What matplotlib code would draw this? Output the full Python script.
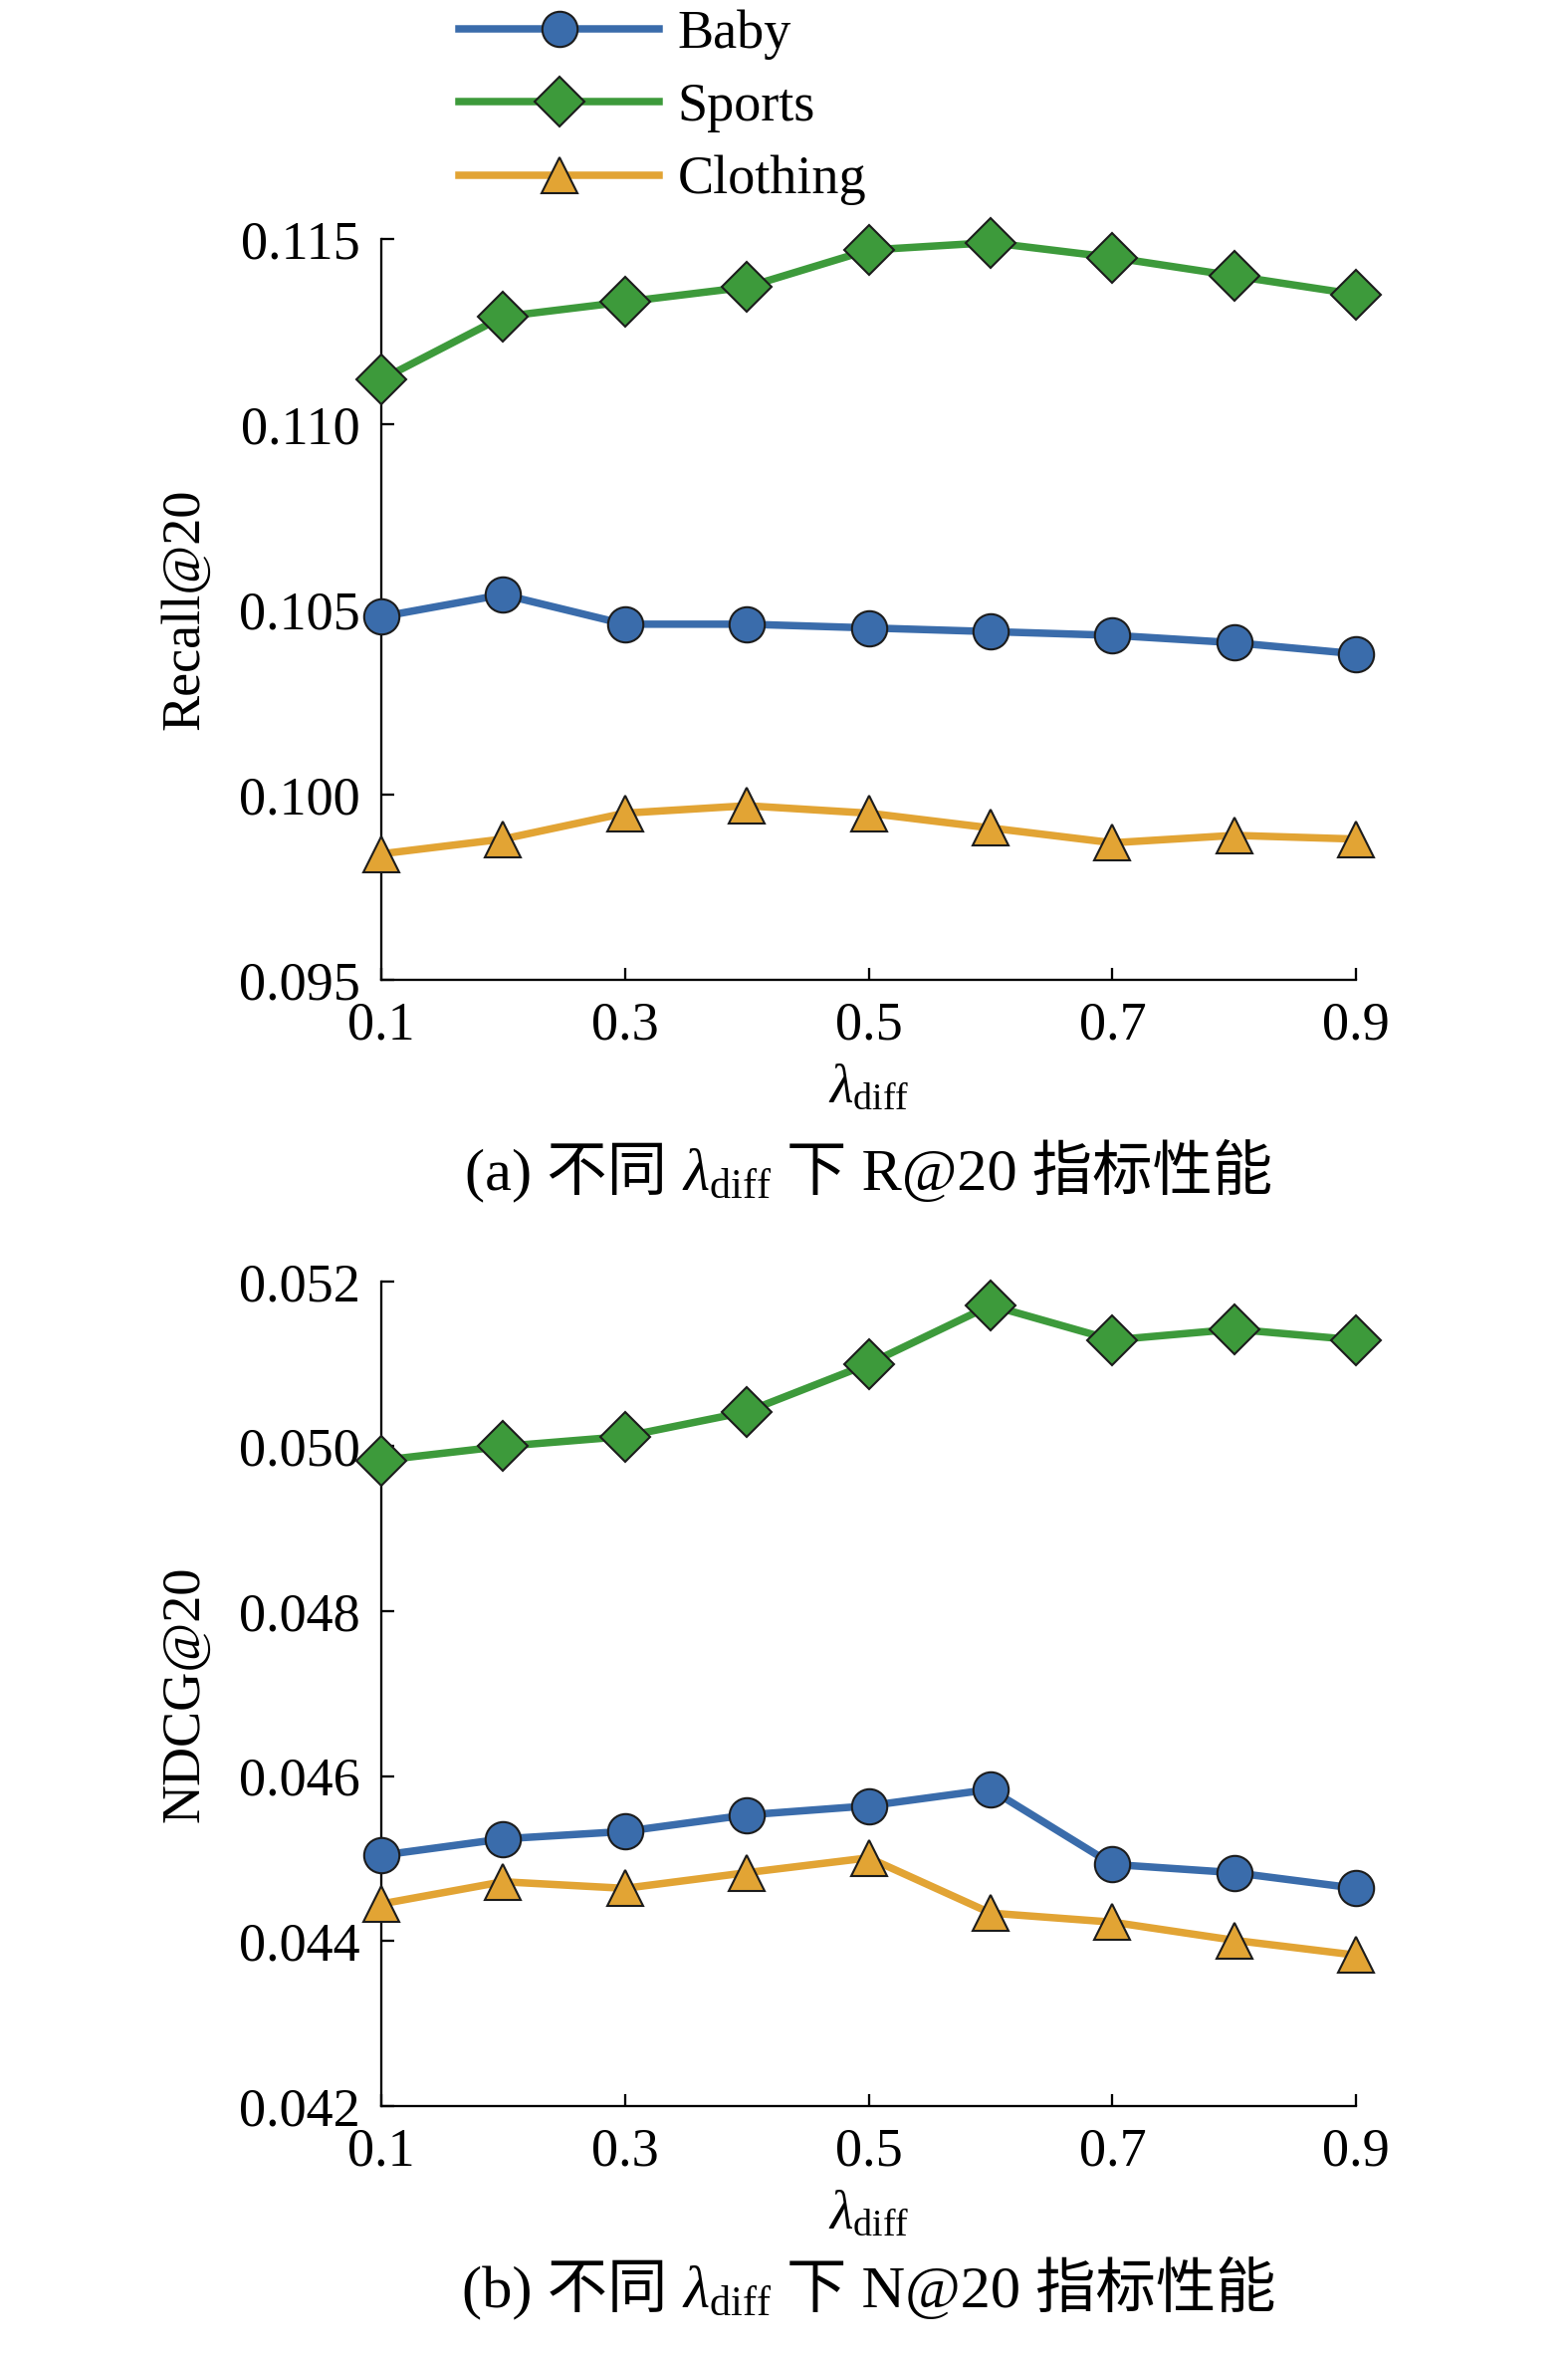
import numpy as np
import matplotlib
matplotlib.use("Agg")
import matplotlib.pyplot as plt
from matplotlib.offsetbox import TextArea, HPacker, AnchoredOffsetbox

plt.rcParams['font.family'] = ['Liberation Serif', 'Noto Sans CJK SC']
plt.rcParams['mathtext.fontset'] = 'custom'
plt.rcParams['mathtext.rm'] = 'Liberation Serif'
plt.rcParams['mathtext.it'] = 'Liberation Serif:italic'

# data
lam = [0.1, 0.2, 0.3, 0.4, 0.5, 0.6, 0.7, 0.8, 0.9]
series = ['Baby', 'Sports', 'Clothing']

recall_baby = [0.1048, 0.1054, 0.1046, 0.1046, 0.1045, 0.1044, 0.1043, 0.1041, 0.1038]
recall_sports = [0.1112, 0.1129, 0.1133, 0.1137, 0.1147, 0.1149, 0.1145, 0.1140, 0.1135]
recall_clothing = [0.0984, 0.0988, 0.0995, 0.0997, 0.0995, 0.0991, 0.0987, 0.0989, 0.0988]

ndcg_baby = [0.04504, 0.04524, 0.04533, 0.04553, 0.04564, 0.04584, 0.04493, 0.04483, 0.04464]
ndcg_sports = [0.04983, 0.05000, 0.05012, 0.05042, 0.05100, 0.05171, 0.05129, 0.05142, 0.05129]
ndcg_clothing = [0.04445, 0.04472, 0.04464, 0.04483, 0.04501, 0.04434, 0.04423, 0.04401, 0.04383]

x_ticks = [0.1, 0.3, 0.5, 0.7, 0.9]
recall_ticks = [0.095, 0.100, 0.105, 0.110, 0.115]
ndcg_ticks = [0.042, 0.044, 0.046, 0.048, 0.050, 0.052]

colors = ['#3a6cab', '#3d9a3b', '#e2a434']
markers = ['o', 'D', '^']
FS = 26

fig = plt.figure(figsize=(10.5, 2366 / 150), dpi=150)
ax1 = fig.add_axes([0.243, 0.5841, 0.622, 0.3145])
ax2 = fig.add_axes([0.243, 0.1061, 0.622, 0.3500])


def style_axes(ax, yticks, ylabel):
    ax.set_xlim(0.1, 0.9)
    ax.set_ylim(yticks[0], yticks[-1])
    ax.set_xticks(x_ticks)
    ax.set_xticklabels([f'{t:.1f}' for t in x_ticks])
    ax.set_yticks(yticks)
    ax.set_yticklabels([f'{t:.3f}' for t in yticks])
    for s in ['top', 'right']:
        ax.spines[s].set_visible(False)
    for s in ['left', 'bottom']:
        ax.spines[s].set_linewidth(1.1)
    ax.tick_params(direction='in', length=6, width=1.1, labelsize=FS, pad=10)
    ax.set_ylabel(ylabel, fontsize=FS)
    ax.yaxis.set_label_coords(-0.175, 0.5)
    ax.set_xlabel(r'$\lambda_{\mathrm{diff}}$', fontsize=FS, labelpad=6)


def draw(ax, ys):
    handles = []
    for y, c, m, name in zip(ys, colors, markers, series):
        h, = ax.plot(lam, y, color=c, lw=3.6, marker=m, markersize=17,
                     markerfacecolor=c, markeredgecolor='#1c1c1c',
                     markeredgewidth=1.0, clip_on=False, label=name, zorder=3)
        handles.append(h)
    return handles


handles = draw(ax1, [recall_baby, recall_sports, recall_clothing])
draw(ax2, [ndcg_baby, ndcg_sports, ndcg_clothing])
style_axes(ax1, recall_ticks, 'Recall@20')
style_axes(ax2, ndcg_ticks, 'NDCG@20')

fig.legend(handles=handles, loc='upper left', bbox_to_anchor=(0.293, 0.996),
           frameon=False, fontsize=FS, handlelength=3.7, handletextpad=0.35,
           labelspacing=0.42, borderpad=0, borderaxespad=0, numpoints=1)


def caption(prefix, metric, y):
    tp = dict(fontsize=29, family=['Liberation Serif', 'Noto Sans CJK SC'])
    parts = [TextArea(prefix, textprops=tp),
             TextArea(r'$\lambda_{\mathrm{diff}}$', textprops=tp),
             TextArea('下 ' + metric + ' 指标性能', textprops=tp)]
    box = HPacker(children=parts, align='baseline', pad=0, sep=7)
    anch = AnchoredOffsetbox(loc='center', child=box, frameon=False, pad=0,
                             borderpad=0, bbox_to_anchor=(0.554, y),
                             bbox_transform=fig.transFigure)
    fig.add_artist(anch)


caption('(a) 不同', 'R@20', 1 - 1176 / 2366)
caption('(b) 不同', 'N@20', 1 - 2298 / 2366)

fig.savefig('out.png', dpi=150)
